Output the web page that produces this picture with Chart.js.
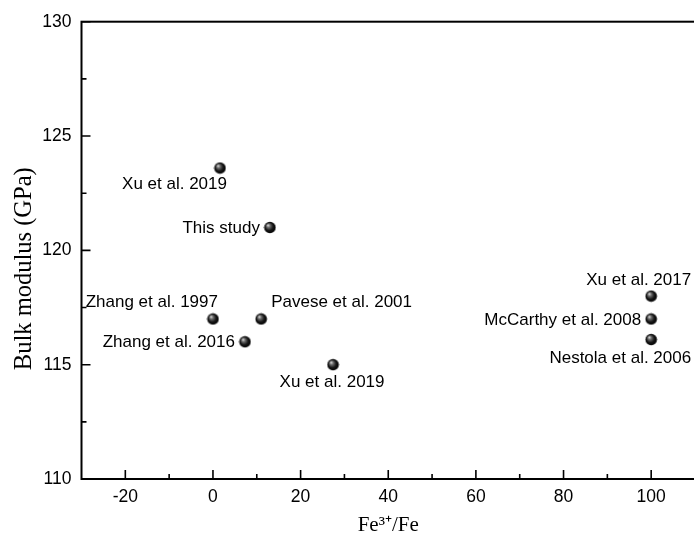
<!DOCTYPE html>
<html><head><meta charset="utf-8">
<script src="https://cdn.jsdelivr.net/npm/chart.js@4"></script>
<style>html,body{margin:0;padding:0;background:#fff;overflow:hidden;} #wrap{width:702px;height:536px;}</style>
</head><body><div id="wrap"><canvas id="c" width="702" height="536"></canvas></div>
<script>
// ---- data ----
const studies = ['Xu et al. 2019','This study','Zhang et al. 1997','Pavese et al. 2001','Zhang et al. 2016','Xu et al. 2019','Xu et al. 2017','McCarthy et al. 2008','Nestola et al. 2006'];
const fe3Ratio = [1.6, 13, 0, 11, 7.3, 27.4, 100, 100, 100];
const bulkModulus = [123.6, 121.0, 117.0, 117.0, 116.0, 115.0, 118.0, 117.0, 116.1];
const xTickValues = [-20, 0, 20, 40, 60, 80, 100];
const yTickValues = [110, 115, 120, 125, 130];

// ---- label placement (style only) : [align, dx, dy] ----
const labelPlacement = [
  ['right', 7, 16], ['right', -10, 1], ['right', 5, -17], ['left', 10, -17],
  ['right', -10, 1], ['center', -1, 18], ['right', 40, -16], ['right', -10, 1], ['right', 40, 19]
];

// sphere marker image
const sphere = document.createElement('canvas');
sphere.width = 13; sphere.height = 13;
(function(){
  const g = sphere.getContext('2d');
  const grad = g.createRadialGradient(4.5, 4.2, 0.3, 6.5, 6.5, 6.5);
  grad.addColorStop(0, '#d8d8d8');
  grad.addColorStop(0.25, '#6a6a6a');
  grad.addColorStop(0.6, '#141414');
  grad.addColorStop(1, '#000000');
  g.fillStyle = grad;
  g.beginPath(); g.arc(6.5, 6.5, 5.8, 0, Math.PI * 2); g.fill();
})();

const framePlugin = {
  id: 'frame',
  beforeDatasetsDraw(chart) {
    const {ctx, chartArea: a, scales: {x, y}} = chart;
    ctx.save();
    ctx.strokeStyle = '#000';
    ctx.lineWidth = 2;
    ctx.strokeRect(a.left, a.top, a.right - a.left, a.bottom - a.top);
    ctx.lineWidth = 1.6;
    ctx.beginPath();
    xTickValues.forEach(v => {
      const px = x.getPixelForValue(v);
      ctx.moveTo(px, a.bottom); ctx.lineTo(px, a.bottom - 9);
      const mx = x.getPixelForValue(v - 10);
      if (mx > a.left + 2) { ctx.moveTo(mx, a.bottom); ctx.lineTo(mx, a.bottom - 5); }
    });
    const lastMx = x.getPixelForValue(xTickValues[xTickValues.length - 1] + 10);
    if (lastMx < a.right - 2) { ctx.moveTo(lastMx, a.bottom); ctx.lineTo(lastMx, a.bottom - 5); }
    yTickValues.forEach((v, i) => {
      const py = y.getPixelForValue(v);
      ctx.moveTo(a.left, py); ctx.lineTo(a.left + 9, py);
      if (i > 0) {
        const my = y.getPixelForValue((v + yTickValues[i - 1]) / 2);
        ctx.moveTo(a.left, my); ctx.lineTo(a.left + 5, my);
      }
    });
    ctx.stroke();
    ctx.restore();
  }
};

const labelPlugin = {
  id: 'pointLabels',
  afterDatasetsDraw(chart) {
    const {ctx} = chart;
    const pts = chart.getDatasetMeta(0).data;
    ctx.save();
    ctx.font = '17px "Liberation Sans", Arial, sans-serif';
    ctx.fillStyle = '#000';
    ctx.textBaseline = 'middle';
    pts.forEach((p, i) => {
      const [align, dx, dy] = labelPlacement[i];
      ctx.textAlign = align;
      ctx.fillText(studies[i], p.x + dx, p.y + dy);
    });
    ctx.restore();
  }
};

new Chart(document.getElementById('c'), {
  type: 'scatter',
  data: {
    datasets: [{
      data: fe3Ratio.map((v, i) => ({x: v, y: bulkModulus[i]})),
      pointStyle: sphere,
      pointRadius: 6,
      pointHoverRadius: 6
    }]
  },
  options: {
    responsive: false,
    animation: false,
    events: [],
    layout: {padding: {top: 21.7, right: 6.6, left: 0, bottom: 0}},
    plugins: {legend: {display: false}, tooltip: {enabled: false}},
    scales: {
      x: {
        type: 'linear', min: -30, max: 110,
        afterBuildTicks: s => { s.ticks = xTickValues.map(v => ({value: v})); },
        afterFit: s => { s.height = 57; },
        grid: {display: false, drawTicks: false}, border: {display: false},
        ticks: {padding: 8, color: '#000', font: {family: '"Liberation Sans", Arial, sans-serif', size: 17.5}, maxRotation: 0, autoSkip: false},
        title: {display: true, text: 'Fe³⁺/Fe', color: '#000', padding: 0,
          font: {family: '"Liberation Serif", "Times New Roman", serif', size: 21, lineHeight: 1}}
      },
      y: {
        type: 'linear', min: 110, max: 130,
        afterBuildTicks: s => { s.ticks = yTickValues.map(v => ({value: v})); },
        afterFit: s => { s.width = 81.5; },
        grid: {display: false, drawTicks: false}, border: {display: false},
        ticks: {padding: 10, color: '#000', font: {family: '"Liberation Sans", Arial, sans-serif', size: 17.5}, autoSkip: false},
        title: {display: true, text: 'Bulk modulus (GPa)      ', color: '#000', padding: {top: 12.4, bottom: 0},
          font: {family: '"Liberation Serif", "Times New Roman", serif', size: 24.5, lineHeight: 1}}
      }
    }
  },
  plugins: [framePlugin, labelPlugin]
});
</script>
</body></html>
